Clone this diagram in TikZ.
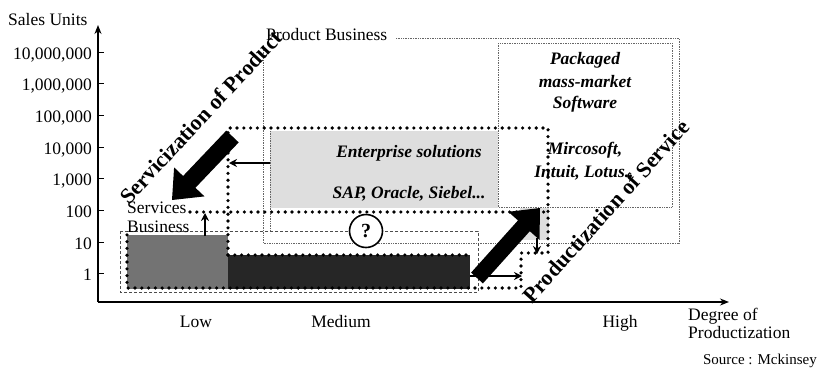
\documentclass[tikz,border=0pt]{standalone}
\usepackage{fontspec}
\setmainfont{Liberation Serif}
\usetikzlibrary{arrows.meta}
\begin{document}
\begin{tikzpicture}[x=1pt,y=-1pt,
  lbl/.style={font=\fontsize{17.5}{20}\selectfont, inner sep=0pt},
  srclbl/.style={font=\fontsize{15}{18}\selectfont, inner sep=0pt},
  bilbl/.style={font=\fontsize{17.5}{21}\selectfont\bfseries\itshape, inner sep=0pt},
  diagtext/.style={font=\fontsize{22}{24}\selectfont\bfseries, inner sep=0pt},
  thinline/.style={draw=black!60, line width=0.7pt, densely dotted},
  thindash/.style={draw=black!70, line width=0.7pt, dash pattern=on 3pt off 2pt},
  thickdot/.style={line width=3.6pt, dash pattern=on 0pt off 6.8pt, line cap=round},
  axisline/.style={line width=1.3pt, -{Stealth[length=9pt,width=7pt]}},
  thinarrow/.style={line width=1.8pt, -{Stealth[length=8pt,width=8pt]}},
  tickmark/.style={line width=1pt},
]
\useasboundingbox (0,0) rectangle (818,367);

% shaded regions
\fill[black!13] (270,131) rectangle (498,208);
\fill[black!13] (520,208) rectangle (549,240);
\fill[black!55] (127,235) rectangle (228,289);
\fill[black!85] (228,255) rectangle (470,289);

% thin outlines
\draw[thinline] (396,38) -- (679,38) -- (679,243) -- (263,243) -- (263,45);
\draw[thinline] (498,43) rectangle (672,207);
\draw[thinline] (270,131) -- (270,233);
\draw[thindash] (120,231) rectangle (478,292);

% thick dotted outlines
\draw[thickdot] (228,255) -- (228,128) -- (548,128) -- (548,253) -- (521,253) -- (521,288) -- (127,288) -- (127,233);
\draw[thickdot] (190,212) -- (548,212);
\draw[thickdot] (228,255) -- (470,255);

% axes
\coordinate (O) at (98,302);
\coordinate (ytip) at (98,25);
\coordinate (xtip) at (729,302);
\draw[axisline] (O) -- (ytip);
\draw[axisline] (O) -- (xtip);

% ticks and labels
\foreach \k/\yy in {a/52, b/83.7, c/115.4, d/147.1, e/178.8, f/210.5, g/242.2, h/273.9}{
  \coordinate (t\k) at (98,\yy);
  \coordinate (u\k) at (104,\yy);
  \draw[tickmark] (t\k) -- (u\k);
}
\node[lbl, anchor=base east] (la) at (92,59) {10,000,000};
\node[lbl, anchor=base east] (lb) at (92,90.7) {1,000,000};
\node[lbl, anchor=base east] (lc) at (92,122.4) {100,000};
\node[lbl, anchor=base east] (ld) at (92,154.1) {10,000};
\node[lbl, anchor=base east] (le) at (92,185.8) {1,000};
\node[lbl, anchor=base east] (lf) at (92,217.5) {100};
\node[lbl, anchor=base east] (lg) at (92,249.2) {10};
\node[lbl, anchor=base east] (lh) at (92,280.9) {1};

\node[lbl, anchor=base west] (salesunits) at (8,25) {Sales Units};
\node[lbl, anchor=base] (low) at (196,327) {Low};
\node[lbl, anchor=base] (medium) at (341,327) {Medium};
\node[lbl, anchor=base] (high) at (620,327) {High};
\node[lbl, anchor=base west] (degree) at (688,320) {Degree of};
\node[lbl, anchor=base west] (productization) at (688,338) {Productization};
\node[srclbl, anchor=base east] (source) at (817,364) {Source : Mckinsey};

% region labels
\node[lbl, anchor=base west] (prodbus) at (266,40) {Product Business};
\node[lbl, anchor=base west] (services) at (127,213) {Services};
\node[lbl, anchor=base west] (business) at (127,232) {Business};
\node[bilbl, anchor=base] (enterprise) at (409,157) {Enterprise solutions};
\node[bilbl, anchor=base] (sap) at (409,198) {SAP, Oracle, Siebel...};
\node[bilbl, anchor=base] (packaged) at (585,64) {Packaged};
\node[bilbl, anchor=base] (massmarket) at (585,87) {mass-market};
\node[bilbl, anchor=base] (software) at (585,108) {Software};
\node[bilbl, anchor=base] (microsoft) at (585,154) {Mircosoft,};
\node[bilbl, anchor=base] (intuit) at (584,177) {Intuit, Lotus..};

% question mark
\node[circle, draw, line width=1.6pt, fill=white, minimum size=33pt, inner sep=0pt,
      font=\fontsize{20}{20}\selectfont\bfseries] (q) at (366,231) {?};

% thin arrows
\coordinate (a1s) at (270,163); \coordinate (a1e) at (229,163);
\coordinate (a2s) at (205,236); \coordinate (a2e) at (205,213);
\coordinate (a3s) at (537,238); \coordinate (a3e) at (537,254);
\coordinate (a4s) at (470,276); \coordinate (a4e) at (522,276);
\draw[thinarrow] (a1s) -- (a1e);
\draw[thinarrow] (a2s) -- (a2e);
\draw[thinarrow] (a3s) -- (a3e);
\draw[thinarrow] (a4s) -- (a4e);

% big block arrows
\fill (226.3,130.6) -- (183.1,176.0) -- (174.1,167.4) -- (172,200) -- (204.5,196.4) -- (195.4,187.8) -- (238.7,142.4) -- cycle;
\fill (471.1,272.6) -- (518.0,220.4) -- (508.3,211.8) -- (540,208) -- (539.5,239.8) -- (529.8,231.2) -- (482.9,283.4) -- cycle;

% diagonal labels
\node[diagtext, rotate=47] (servicization) at (201,117) {Servicization of Product};
\node[diagtext, rotate=48] (productiz) at (606,211) {Productization of Service};
\end{tikzpicture}
\end{document}
